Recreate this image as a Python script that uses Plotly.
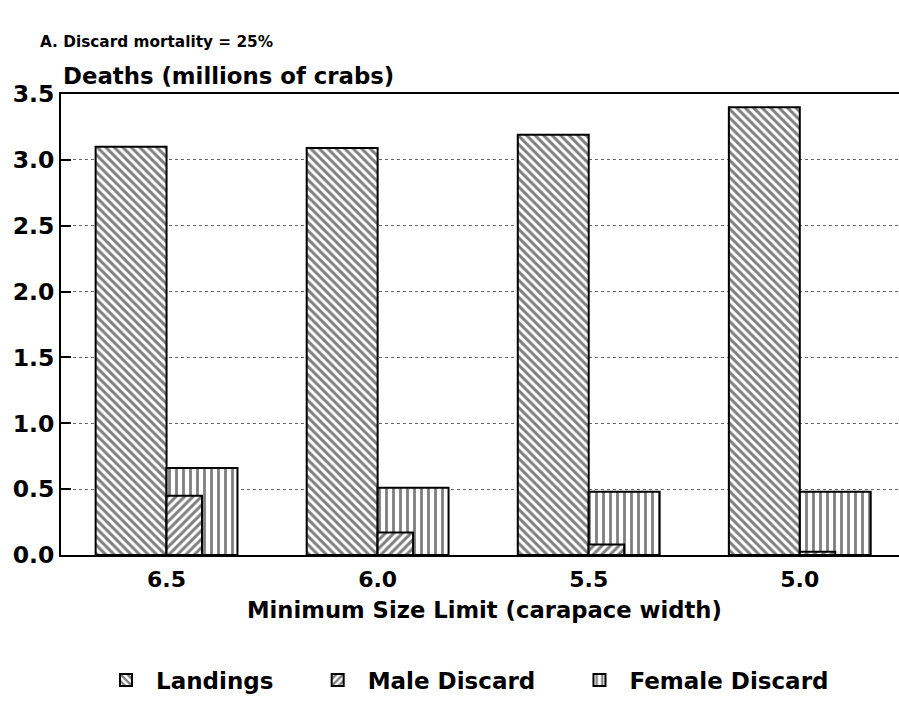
import plotly.graph_objects as go

size_limits = ["6.5", "6.0", "5.5", "5.0"]
landings = [3.10, 3.09, 3.19, 3.40]
male_discard = [0.45, 0.17, 0.08, 0.025]
female_discard = [0.66, 0.51, 0.48, 0.48]
y_ticks = [0.0, 0.5, 1.0, 1.5, 2.0, 2.5, 3.0, 3.5]

FONT = "DejaVu Sans"
PAD = "&nbsp;" * 4
fig = go.Figure()

line = dict(color="black", width=2)
fig.add_trace(go.Bar(
    x=size_limits, y=landings, name="<b>Landings</b>" + PAD,
    width=0.336, offset=-0.336, legendrank=1,
    marker=dict(color="white", line=line,
                pattern=dict(shape="\\", fgcolor="black", bgcolor="white", size=6, solidity=0.5)),
))
fig.add_trace(go.Bar(
    x=size_limits, y=female_discard, name="<b>Female Discard</b>",
    width=0.336, offset=0.0, legendrank=3,
    marker=dict(color="white", line=line,
                pattern=dict(shape="|", fgcolor="black", bgcolor="white", size=7, solidity=0.4)),
))
fig.add_trace(go.Bar(
    x=size_limits, y=male_discard, name="<b>Male Discard</b>" + PAD,
    width=0.168, offset=0.0, legendrank=2,
    marker=dict(color="white", line=line,
                pattern=dict(shape="/", fgcolor="black", bgcolor="white", size=6, solidity=0.5)),
))

fig.update_layout(
    width=899, height=701,
    barmode="overlay",
    plot_bgcolor="white", paper_bgcolor="white",
    margin=dict(l=61, r=0, t=94, b=146, autoexpand=False),
    font=dict(family=FONT, size=20, color="black"),
    showlegend=True,
    legend=dict(orientation="h", x=(96 - 61) / 838, xanchor="left", y=-0.271, yanchor="middle",
                font=dict(family=FONT, size=23, color="black"),
                itemwidth=50),
    annotations=[
        dict(text="<b>A. Discard mortality = 25%</b>", xref="paper", yref="paper",
             x=-0.0275, y=1, xanchor="left", yanchor="middle", yshift=52,
             showarrow=False, font=dict(family=FONT, size=15.3, color="black")),
        dict(text="<b>Deaths (millions of crabs)</b>", xref="paper", yref="paper",
             x=0, y=1, xanchor="left", yanchor="middle", yshift=18,
             showarrow=False, font=dict(family=FONT, size=22.8, color="black")),
        dict(text="<b>Minimum Size Limit (carapace width)</b>", xref="paper", yref="paper",
             x=(485 - 61) / 838, y=0, xanchor="center", yanchor="middle", yshift=-55,
             showarrow=False, font=dict(family=FONT, size=22.7, color="black")),
    ],
)
fig.update_xaxes(
    type="category", range=[-0.5, 3.47], automargin=False,
    showline=True, linecolor="black", linewidth=2, mirror=True,
    showgrid=False, ticks="",
    tickfont=dict(family=FONT, size=22, color="black"),
    ticklabelstandoff=4,
    tickvals=size_limits, ticktext=["<b>%s</b>" % s for s in size_limits],
)
fig.update_yaxes(
    range=[0, 3.5], tickvals=y_ticks, ticktext=["<b>%.1f</b>" % v for v in y_ticks],
    automargin=False,
    showline=True, linecolor="black", linewidth=2,
    showgrid=True, gridcolor="#666666", griddash="dot", gridwidth=1,
    ticks="inside", ticklen=10, tickcolor="black", tickwidth=2,
    tickfont=dict(family=FONT, size=23.5, color="black"),
    zeroline=False,
)

fig.write_html("out.html", config={"displayModeBar": False},
               post_script="document.body.style.margin='0';")
